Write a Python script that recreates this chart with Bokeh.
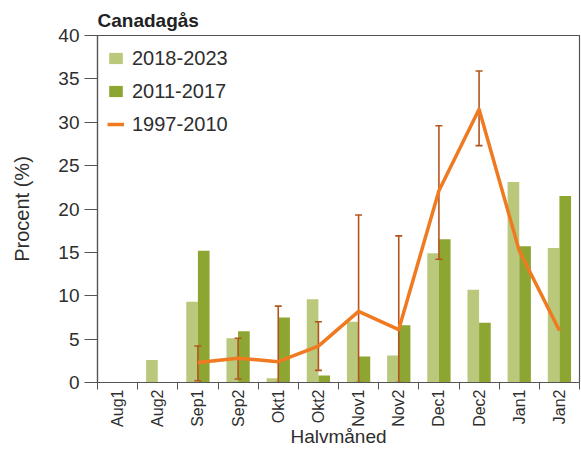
import math
import numpy as np
from bokeh.plotting import figure
from bokeh.models import Range1d, FixedTicker, Legend, LegendItem, ColumnDataSource
from bokeh.embed import file_html
from bokeh.resources import INLINE

# Half-month periods and shares (%) per period group
periods = ["Aug1", "Aug2", "Sep1", "Sep2", "Okt1", "Okt2",
           "Nov1", "Nov2", "Dec1", "Dec2", "Jan1", "Jan2"]
share_2018_2023 = [0.0, 2.6, 9.3, 5.1, 0.5, 9.6, 7.0, 3.1, 14.9, 10.7, 23.1, 15.5]
share_2011_2017 = [0.0, 0.0, 15.2, 5.9, 7.5, 0.8, 3.0, 6.6, 16.5, 6.9, 15.7, 21.5]
share_1997_2010 = [None, None, 2.3, 2.8, 2.4, 4.2, 8.2, 6.1, 22.1, 31.5, 15.2, 6.0]
err_low_1997_2010 = [None, None, 0.2, 0.4, 0.0, 1.4, 0.0, 0.0, 14.2, 27.3, None, None]
err_high_1997_2010 = [None, None, 4.2, 5.1, 8.8, 7.0, 19.3, 16.9, 29.6, 35.9, None, None]
y_ticks = [0, 5, 10, 15, 20, 25, 30, 35, 40]

FONT = "Liberation Sans"
TXT = "#2e2e2e"
AX = "#555555"
LIGHT = "#bac87c"
DARK = "#8ca631"
ORANGE = "#ef7a21"
ERR = "#b4541d"

n = len(periods)
centers = np.arange(n) + 0.5
bw = 0.29

p = figure(width=581, height=450, output_backend="svg", toolbar_location=None,
           x_range=Range1d(0, n), y_range=Range1d(0, 40),
           min_border_left=97, min_border_right=2, min_border_top=35,
           min_border_bottom=68)
p.background_fill_color = "white"
p.border_fill_color = "white"
p.outline_line_color = AX
p.outline_line_width = 1.2
p.xgrid.visible = False
p.ygrid.visible = False

# title
p.title.text = "Canadagås"
p.title.text_font = FONT
p.title.text_font_size = "19px"
p.title.text_font_style = "bold"
p.title.text_color = "#222222"
p.title.align = "left"
p.title.offset = 0

# bars
bar_light = p.vbar(x=centers - bw / 2, top=share_2018_2023, width=bw,
                   fill_color=LIGHT, line_color=None)
bar_dark = p.vbar(x=centers + bw / 2, top=share_2011_2017, width=bw,
                  fill_color=DARK, line_color=None)

# error bars for 1997-2010
idx = [i for i in range(n) if err_low_1997_2010[i] is not None]
err_src = ColumnDataSource(dict(
    x=[centers[i] for i in idx],
    lo=[err_low_1997_2010[i] for i in idx],
    hi=[err_high_1997_2010[i] for i in idx],
))
p.segment(x0="x", y0="lo", x1="x", y1="hi", source=err_src,
          line_color=ERR, line_width=1.6)
p.dash(x="x", y="lo", source=err_src, size=7, line_color=ERR, line_width=1.6)
p.dash(x="x", y="hi", source=err_src, size=7, line_color=ERR, line_width=1.6)

# 1997-2010 line
line_y = [np.nan if v is None else v for v in share_1997_2010]
ln = p.line(x=centers, y=line_y, line_color=ORANGE, line_width=3.5,
            line_join="round")

# axes
xa = p.xaxis[0]
xa.ticker = FixedTicker(ticks=list(centers), minor_ticks=list(np.arange(n + 1)))
xa.major_label_overrides = {float(c): lab for c, lab in zip(centers, periods)}
xa.major_label_orientation = math.pi / 2
xa.major_tick_in = 0
xa.major_tick_out = 0
xa.minor_tick_in = 0
xa.minor_tick_out = 7
xa.minor_tick_line_color = AX
xa.axis_line_color = AX
xa.axis_line_width = 1.2
xa.major_label_text_font = FONT
xa.major_label_text_font_size = "16px"
xa.major_label_text_color = TXT
xa.major_label_standoff = 0
xa.axis_label = "Halvmåned"
xa.axis_label_text_font = FONT
xa.axis_label_text_font_size = "19px"
xa.axis_label_text_font_style = "normal"
xa.axis_label_text_color = TXT
xa.axis_label_standoff = -4

ya = p.yaxis[0]
ya.ticker = FixedTicker(ticks=y_ticks)
ya.minor_tick_line_color = None
ya.major_tick_in = 0
ya.major_tick_out = 13
ya.major_tick_line_color = AX
ya.axis_line_color = AX
ya.axis_line_width = 1.2
ya.major_label_text_font = FONT
ya.major_label_text_font_size = "19px"
ya.major_label_text_color = TXT
ya.major_label_standoff = 5
ya.axis_label = "Procent (%)"
ya.axis_label_text_font = FONT
ya.axis_label_text_font_size = "20px"
ya.axis_label_text_font_style = "normal"
ya.axis_label_text_color = TXT
ya.axis_label_standoff = 22

legend = Legend(items=[
    LegendItem(label="2018-2023", renderers=[bar_light]),
    LegendItem(label="2011-2017", renderers=[bar_dark]),
    LegendItem(label="1997-2010", renderers=[ln]),
], location="top_left")
legend.border_line_color = None
legend.background_fill_alpha = 0
legend.margin = 10
legend.padding = 0
legend.glyph_width = 17
legend.glyph_height = 14
legend.label_height = 26
legend.spacing = 7
legend.label_standoff = 8
legend.label_text_font = FONT
legend.label_text_font_size = "20px"
legend.label_text_color = TXT
p.add_layout(legend)

open("out.html", "w").write(file_html(p, INLINE))
